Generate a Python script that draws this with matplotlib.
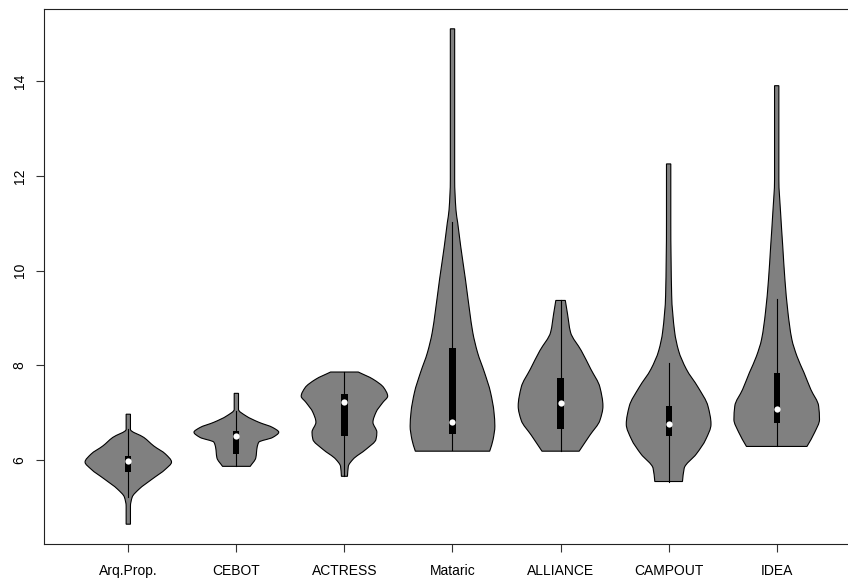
import numpy as np
import matplotlib.pyplot as plt
from matplotlib.path import Path
from matplotlib.patches import PathPatch

plt.rcParams['font.family'] = ['Liberation Sans', 'DejaVu Sans']

names = ['Arq.Prop.', 'CEBOT', 'ACTRESS', 'Mataric', 'ALLIANCE', 'CAMPOUT', 'IDEA']

# density outlines: value levels and relative half-width
arq_y = [4.65, 5.03, 5.22, 5.39, 5.60, 5.81, 5.96, 6.13, 6.30, 6.48, 6.65, 6.97]
arq_w = [0.05, 0.05, 0.09, 0.25, 0.55, 0.86, 1.00, 0.86, 0.59, 0.36, 0.05, 0.05]
cebot_y = [5.87, 6.05, 6.27, 6.38, 6.48, 6.59, 6.69, 6.80, 6.93, 7.07, 7.41]
cebot_w = [0.32, 0.45, 0.48, 0.52, 0.84, 0.98, 0.84, 0.52, 0.23, 0.05, 0.05]
actress_y = [5.66, 5.87, 6.02, 6.23, 6.44, 6.59, 6.80, 7.01, 7.22, 7.35, 7.53, 7.71, 7.86]
actress_w = [0.07, 0.09, 0.20, 0.50, 0.73, 0.75, 0.66, 0.73, 0.89, 1.00, 0.91, 0.66, 0.32]
mataric_y = [6.19, 6.44, 6.72, 7.01, 7.43, 7.85, 8.27, 8.69, 9.12, 9.81, 10.51, 11.01, 11.28, 11.92, 14.38, 15.10]
mataric_w = [0.86, 0.94, 0.98, 0.96, 0.88, 0.74, 0.58, 0.47, 0.40, 0.30, 0.19, 0.12, 0.08, 0.05, 0.05, 0.05]
alliance_y = [6.19, 6.53, 6.84, 7.14, 7.54, 7.92, 8.31, 8.70, 9.09, 9.37]
alliance_w = [0.43, 0.68, 0.91, 0.98, 0.91, 0.70, 0.48, 0.23, 0.16, 0.11]
campout_y = [5.55, 5.83, 6.13, 6.44, 6.76, 7.14, 7.54, 7.92, 8.31, 8.70, 9.48, 11.03, 12.25]
campout_w = [0.32, 0.36, 0.64, 0.86, 0.98, 0.91, 0.68, 0.41, 0.23, 0.14, 0.07, 0.05, 0.05]
idea_y = [6.29, 6.59, 6.86, 7.14, 7.49, 7.85, 8.19, 8.55, 9.12, 9.81, 10.51, 11.22, 11.92, 13.90]
idea_w = [0.70, 0.88, 0.99, 0.97, 0.79, 0.63, 0.47, 0.35, 0.26, 0.19, 0.14, 0.09, 0.05, 0.05]

# box stats: lower whisker, q1, median, q3, upper whisker
whisk_lo = [5.22, 5.87, 5.66, 6.21, 6.19, 5.55, 6.29]
q1 = [5.75, 6.13, 6.51, 6.56, 6.66, 6.50, 6.78]
medians = [5.98, 6.51, 7.22, 6.80, 7.20, 6.77, 7.07]
q3 = [6.08, 6.61, 7.39, 8.37, 7.73, 7.14, 7.83]
whisk_hi = [6.65, 7.03, 7.86, 11.03, 9.37, 8.06, 9.41]

profiles = [(arq_y, arq_w), (cebot_y, cebot_w), (actress_y, actress_w),
            (mataric_y, mataric_w), (alliance_y, alliance_w),
            (campout_y, campout_w), (idea_y, idea_w)]


def pchip_slopes(y, w):
    h = np.diff(y)
    d = np.diff(w) / h
    m = np.zeros(len(y))
    m[0], m[-1] = d[0], d[-1]
    for k in range(1, len(y) - 1):
        if d[k - 1] * d[k] > 0:
            a = 2 * h[k] + h[k - 1]
            b = h[k] + 2 * h[k - 1]
            m[k] = (a + b) / (a / d[k - 1] + b / d[k])
    return m


def side_curve(c, y, w, sign):
    # width as a smooth function of value, drawn as bezier pieces
    m = pchip_slopes(y, w)
    verts, codes = [], []
    for k in range(len(y) - 1):
        h = y[k + 1] - y[k]
        verts += [(c + sign * (w[k] + m[k] * h / 3), y[k] + h / 3),
                  (c + sign * (w[k + 1] - m[k + 1] * h / 3), y[k + 1] - h / 3),
                  (c + sign * w[k + 1], y[k + 1])]
        codes += [Path.CURVE4] * 3
    return verts, codes


fig = plt.figure(figsize=(8.48, 5.79), dpi=100)
ax = fig.add_axes([44 / 848, 35 / 579, 817 / 848, 535 / 579])

half = 0.40
for i, (ys, ws) in enumerate(profiles):
    c = i + 1
    ys = np.array(ys, float)
    ws = np.array(ws, float) * half
    vr, cr = side_curve(c, ys, ws, 1)
    vl, cl = side_curve(c, ys[::-1], ws[::-1], -1)
    verts = [(c + ws[0], ys[0])] + vr + [(c - ws[-1], ys[-1])] + vl + [(c + ws[0], ys[0])]
    codes = [Path.MOVETO] + cr + [Path.LINETO] + cl + [Path.CLOSEPOLY]
    ax.add_patch(PathPatch(Path(verts, codes), facecolor='#808080',
                           edgecolor='black', lw=0.8, zorder=2))
    ax.plot([c, c], [whisk_lo[i], whisk_hi[i]], color='black', lw=0.8, zorder=3)
    ax.add_patch(plt.Rectangle((c - 0.029, q1[i]), 0.058, q3[i] - q1[i],
                               facecolor='black', edgecolor='none', zorder=4))
    ax.plot(c, medians[i], 'o', color='white', ms=4.5, mew=0, zorder=5)

lo, hi = 4.65, 15.10
pad = 0.04 * (hi - lo)
ax.set_ylim(lo - pad, hi + pad)
ax.set_xlim(0.5 - 0.28, 7.5 + 0.28)

ax.set_xticks(range(1, 8))
ax.set_xticklabels(names)
ax.set_yticks([6, 8, 10, 12, 14])
ax.set_yticklabels(['6', '8', '10', '12', '14'], rotation=90, va='center')
ax.tick_params(length=5.5, width=0.8, labelsize=10, color='#333333')
ax.tick_params(axis='x', pad=9)
ax.tick_params(axis='y', pad=7)
for s in ax.spines.values():
    s.set_linewidth(0.8)
    s.set_color('#222222')

fig.savefig('out.png', dpi=100)
